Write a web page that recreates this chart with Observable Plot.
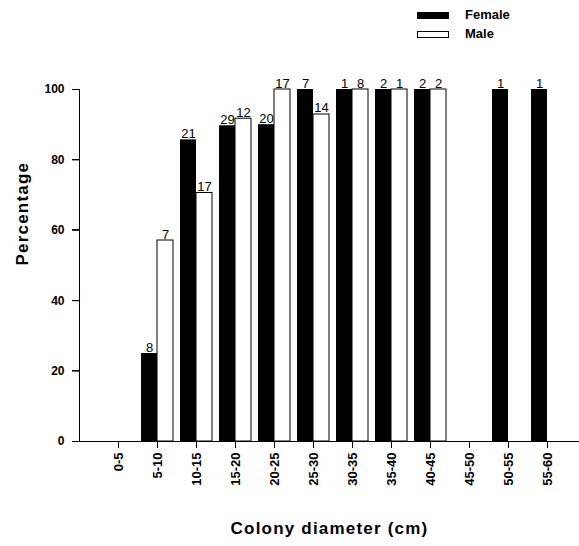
<!DOCTYPE html>
<html>
<head>
<meta charset="utf-8">
<script src="https://cdn.jsdelivr.net/npm/d3@7"></script>
<script src="https://cdn.jsdelivr.net/npm/@observablehq/plot@0.6"></script>
<style>
  html, body { margin: 0; padding: 0; background: #fff; overflow: hidden; }
  body { font-family: "Liberation Sans", Arial, sans-serif; }
  #legend { position: relative; width: 579px; height: 46px; }
  #legend .sw { position: absolute; left: 417px; width: 32px; height: 7px; box-sizing: border-box; }
  #legend .lb { position: absolute; left: 465px; font-size: 13px; font-weight: bold; line-height: 14px; }
  #chart { position: relative; width: 579px; }
  #chart svg { display: block; }
  #chart .ax { position: absolute; background: #000; z-index: 5; }
</style>
</head>
<body>
<div id="legend"></div>
<div id="chart"></div>
<script>
const categories = ["0-5","5-10","10-15","15-20","20-25","25-30","30-35","35-40","40-45","45-50","50-55","55-60"];
const femalePct = [0, 25, 85.7, 89.7, 90, 100, 100, 100, 100, null, 100, 100];
const malePct   = [0, 57.1, 70.6, 91.7, 100, 92.9, 100, 100, 100, null, null, null];
const femaleN   = [null, 8, 21, 29, 20, 7, 1, 2, 2, null, 1, 1];
const maleN     = [null, 7, 17, 12, 17, 14, 8, 1, 2, null, null, null];
const yTicks = [0, 20, 40, 60, 80, 100];
const seriesNames = ["Female", "Male"];

const female = categories.map((c, i) => ({cat: c, value: femalePct[i], n: femaleN[i]})).filter(d => d.value != null);
const male = categories.map((c, i) => ({cat: c, value: malePct[i], n: maleN[i]})).filter(d => d.value != null);

// legend
const legend = document.getElementById("legend");
[["#000", null], ["#fff", "1px solid #000"]].forEach(([bg, border], i) => {
  const sw = document.createElement("div");
  sw.className = "sw";
  sw.style.top = (12 + i * 19) + "px";
  sw.style.background = bg;
  if (border) sw.style.border = border;
  legend.appendChild(sw);
  const lb = document.createElement("div");
  lb.className = "lb";
  lb.style.top = (8 + i * 19) + "px";
  lb.textContent = seriesNames[i];
  legend.appendChild(lb);
});

const marginLeft = 79;
const plot = Plot.plot({
  width: 579,
  height: 500,
  marginLeft,
  marginRight: 0,
  marginTop: 43,
  marginBottom: 105,
  style: {fontFamily: "'Liberation Sans', Arial, sans-serif", color: "#000", background: "#fff"},
  x: {type: "band", domain: categories, range: [98.5, 566.5], paddingInner: 0.18, paddingOuter: 0.09, axis: null},
  y: {domain: [0, 100], axis: null},
  marks: [
    Plot.barY(female, {x: "cat", y: "value", fill: "#000", insetRight: 16}),
    Plot.barY(male, {x: "cat", y: "value", fill: "#fff", stroke: "#000", strokeWidth: 1, insetLeft: 16}),
    Plot.text(female.filter(d => d.n != null), {x: "cat", y: "value", text: "n", dx: -8, dy: -2, lineAnchor: "bottom", fontSize: 13, fill: "#000"}),
    Plot.text(male.filter(d => d.n != null), {x: "cat", y: "value", text: "n", dx: 8, dy: -2, lineAnchor: "bottom", fontSize: 13, fill: "#000"}),
    Plot.ruleY([0], {stroke: "#000", strokeWidth: 1}),
    Plot.frame({anchor: "left", stroke: "#000"}),
    Plot.axisY(yTicks, {tickSize: 7, tickPadding: 8, fontSize: 12, fontWeight: "bold", label: null}),
    Plot.axisX({tickSize: 6, tickPadding: 5, tickRotate: -90, fontSize: 13, fontWeight: "bold", label: null}),
    Plot.text(["Percentage"], {frameAnchor: "left", dx: -57, rotate: -90, fontSize: 17, fontWeight: "bold", fill: "#000"}),
    Plot.text(["Colony diameter (cm)"], {frameAnchor: "bottom", dy: 92, fontSize: 17, fontWeight: "bold", fill: "#000"})
  ]
});
const chart = document.getElementById("chart");
chart.appendChild(plot);
plot.querySelectorAll("text").forEach(t => {
  if (t.textContent === "Colony diameter (cm)" || t.textContent === "Percentage") t.style.letterSpacing = "1.2px";
});

// Axis line and tick marks, positioned from Plot's own scales
const sx = plot.scale("x"), sy = plot.scale("y");
function seg(left, top, w, h) {
  const d = document.createElement("div");
  d.className = "ax";
  d.style.left = left + "px"; d.style.top = top + "px";
  d.style.width = w + "px"; d.style.height = h + "px";
  chart.appendChild(d);
}
const y0 = Math.floor(sy.apply(0)), yTop = Math.floor(sy.apply(100));
seg(marginLeft, yTop, 1, y0 - yTop + 1);
yTicks.forEach(v => seg(marginLeft - 7, Math.floor(sy.apply(v)), 7, 1));
categories.forEach(c => seg(Math.floor(sx.apply(c) + sx.bandwidth / 2), y0, 1, 7));
</script>
</body>
</html>
